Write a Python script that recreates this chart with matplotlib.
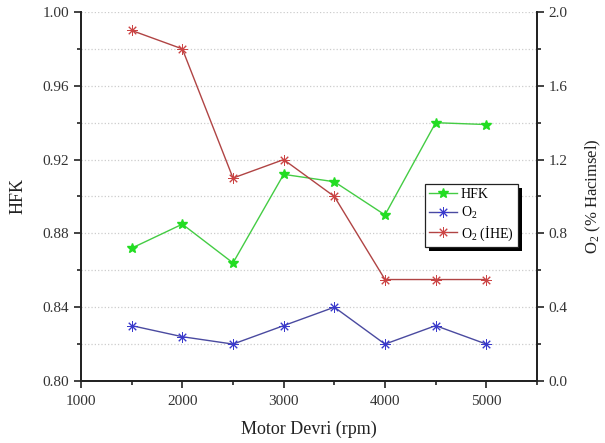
import matplotlib
matplotlib.use("Agg")
import matplotlib.pyplot as plt
from matplotlib.patches import Rectangle
from matplotlib.ticker import MultipleLocator, FormatStrFormatter

plt.rcParams['font.family'] = ['Liberation Serif', 'DejaVu Serif']
plt.rcParams['mathtext.fontset'] = 'custom'
plt.rcParams['mathtext.rm'] = 'Liberation Serif'
plt.rcParams['mathtext.it'] = 'Liberation Serif:italic'

rpm = [1500, 2000, 2500, 3000, 3500, 4000, 4500, 5000]
hfk = [0.872, 0.885, 0.864, 0.912, 0.908, 0.890, 0.940, 0.939]
o2 = [0.30, 0.24, 0.20, 0.30, 0.40, 0.20, 0.30, 0.20]
o2_ihe = [1.90, 1.80, 1.10, 1.20, 1.00, 0.55, 0.55, 0.55]

fig = plt.figure(figsize=(6.05, 4.43), dpi=100)
ax = fig.add_axes([81/605, 1 - 381/443, 456/605, 369/443])
ax2 = ax.twinx()

l1, = ax.plot(rpm, hfk, color='#44cc44', lw=1.0, marker='*', ms=7,
              mfc='#22dd22', mec='#22dd22', label='HFK', zorder=3)
l2, = ax2.plot(rpm, o2, color='#4a4aa0', lw=1.0, marker=(8, 2, 0), ms=7.5,
               mec='#3a3acc', mew=0.7, label='O$_2$', zorder=3)
l3, = ax2.plot(rpm, o2_ihe, color='#b04444', lw=1.0, marker=(8, 2, 0), ms=7.5,
               mec='#cc4444', mew=0.7, label='O$_2$ (İHE)', zorder=3)

ax.set_xlim(1000, 5500)
ax.set_ylim(0.80, 1.00)
ax2.set_ylim(0.0, 2.0)

ax.xaxis.set_major_locator(MultipleLocator(1000))
ax.xaxis.set_minor_locator(MultipleLocator(500))
ax.yaxis.set_major_locator(MultipleLocator(0.04))
ax.yaxis.set_minor_locator(MultipleLocator(0.02))
ax.yaxis.set_major_formatter(FormatStrFormatter('%.2f'))
ax2.yaxis.set_major_locator(MultipleLocator(0.4))
ax2.yaxis.set_minor_locator(MultipleLocator(0.2))
ax2.yaxis.set_major_formatter(FormatStrFormatter('%.1f'))

for a in (ax, ax2):
    a.spines['top'].set_visible(False)
    for s in a.spines.values():
        s.set_linewidth(1.3)
        s.set_color('#222222')
    a.tick_params(which='major', direction='out', length=5, width=1.2,
                  labelsize=11, colors='#222222', labelcolor='#333333')
    a.tick_params(which='minor', direction='out', length=3, width=1.2,
                  colors='#222222')
ax.tick_params(axis='x', pad=5)

ax.grid(True, which='both', axis='y', linestyle=':', color='#cccccc', lw=0.9)
ax.set_axisbelow(True)

ax.set_xlabel('Motor Devri (rpm)', fontsize=13, color='#222222')
ax.set_ylabel('HFK', fontsize=13, color='#222222')
ax2.set_ylabel('O$_2$ (% Hacimsel)', fontsize=12, color='#222222')
ax.xaxis.set_label_coords(0.5, -0.108)
ax.yaxis.set_label_coords(-0.12, 0.5)
ax2.yaxis.set_label_coords(1.102, 0.5)

leg = ax2.legend(handles=[l1, l2, l3], loc='upper left',
                 bbox_to_anchor=(0.754, 0.534), fontsize=10,
                 frameon=True, fancybox=False, framealpha=1,
                 handlelength=2.0, handletextpad=0.3, borderpad=0.3,
                 labelspacing=0.25, borderaxespad=0)
leg.get_frame().set_edgecolor('#222222')
leg.get_frame().set_linewidth(0.9)
leg.set_zorder(10)

# solid drop shadow behind the legend box
fig.canvas.draw()
bb = leg.get_window_extent().transformed(fig.transFigure.inverted())
dx, dy = 4 / 605, 4 / 443
shadow = Rectangle((bb.x0 + dx, bb.y0 - dy), bb.width, bb.height,
                   transform=fig.transFigure, facecolor='black',
                   edgecolor='none', zorder=9)
ax2.add_artist(shadow)
shadow.set_clip_on(False)

fig.savefig('out.png', dpi=100)
